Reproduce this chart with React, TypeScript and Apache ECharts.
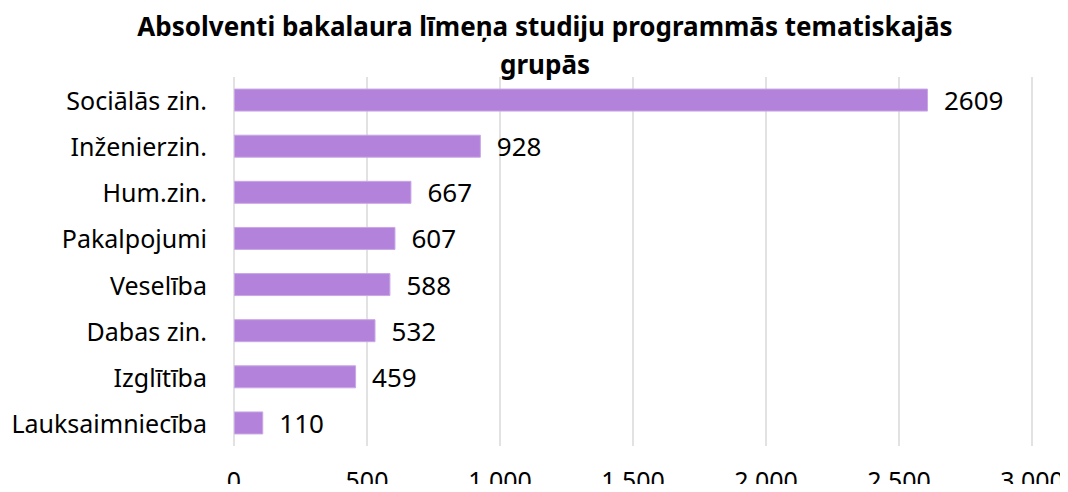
import React, { useEffect, useRef } from "react";
import * as echarts from "echarts";

const categories = [
  "Sociālās zin.",
  "Inženierzin.",
  "Hum.zin.",
  "Pakalpojumi",
  "Veselība",
  "Dabas zin.",
  "Izglītība",
  "Lauksaimniecība",
];
const values = [2609, 928, 667, 607, 588, 532, 459, 110];
const titleText = "Absolventi bakalaura līmeņa studiju programmās tematiskajās\ngrupās";

const FONT = "'Noto Sans', sans-serif";

export default function App() {
  const ref = useRef<HTMLDivElement>(null);
  useEffect(() => {
    if (!ref.current) return;
    const chart = echarts.init(ref.current, undefined, { renderer: "svg" });
    chart.setOption({
      animation: false,
      title: {
        text: titleText,
        left: 540,
        textAlign: "center",
        top: 2,
        textStyle: {
          fontFamily: FONT,
          fontWeight: "bold",
          fontSize: 26,
          lineHeight: 38,
          color: "#000",
        },
      },
      grid: { left: 234, right: 36, top: 77, bottom: 40, containLabel: false },
      xAxis: {
        type: "value",
        min: 0,
        max: 3000,
        interval: 500,
        axisLine: { show: false },
        axisTick: { show: false },
        splitLine: { show: true, lineStyle: { color: "#D9D9D9", width: 1.5 } },
        axisLabel: {
          margin: 21,
          fontFamily: FONT,
          fontSize: 25,
          color: "#000",
          formatter: (v: number) =>
            String(v).replace(/\B(?=(\d{3})+(?!\d))/g, " "),
        },
      },
      yAxis: {
        type: "category",
        data: categories,
        inverse: true,
        axisLine: { show: false },
        axisTick: { show: false },
        axisLabel: {
          margin: 27,
          fontFamily: FONT,
          fontSize: 25,
          color: "#000",
        },
      },
      series: [
        {
          type: "bar",
          data: values,
          barWidth: 23,
          itemStyle: { color: "#B383DB", borderColor: "#C9A6E6", borderWidth: 1 },
          label: {
            show: true,
            position: "right",
            distance: 16,
            fontFamily: FONT,
            fontSize: 26,
            color: "#000",
          },
        },
      ],
    });
    return () => chart.dispose();
  }, []);
  return <div ref={ref} style={{ width: 1068, height: 492, margin: -8 }} />;
}
